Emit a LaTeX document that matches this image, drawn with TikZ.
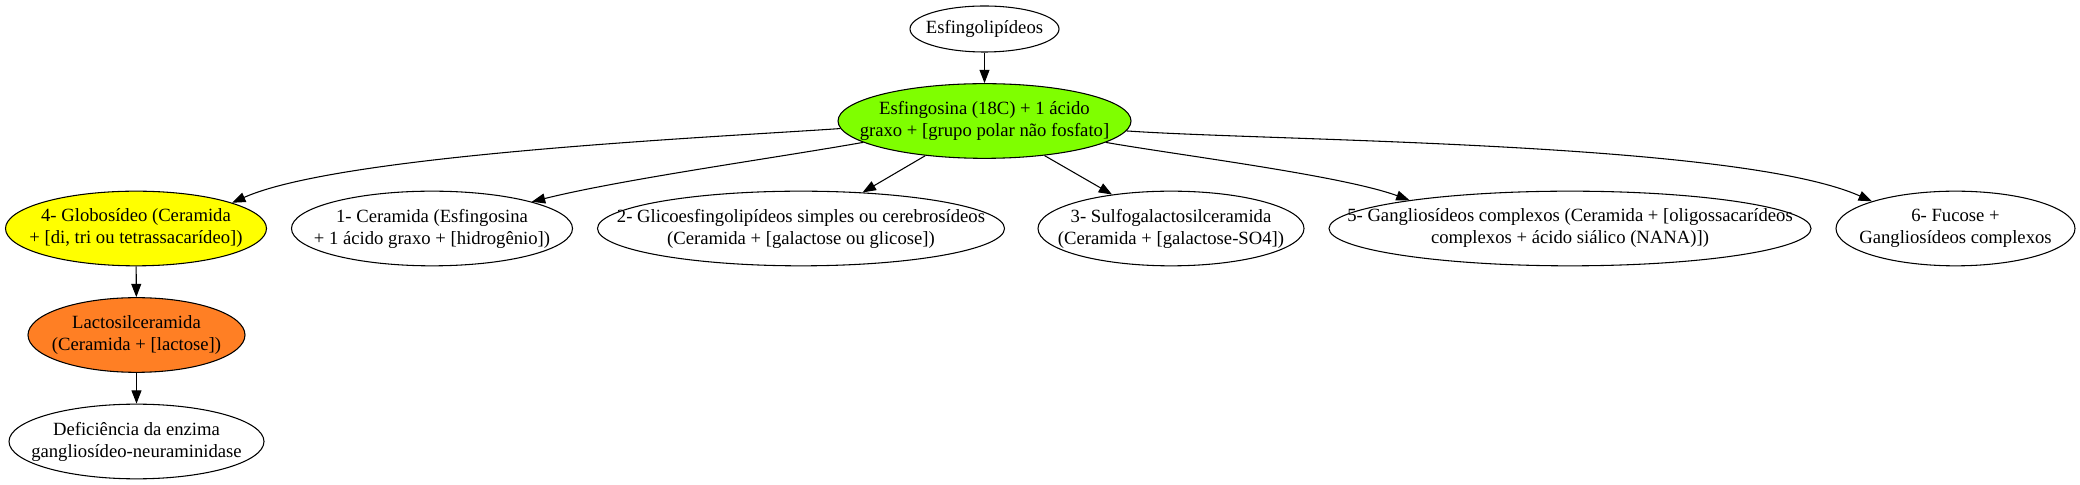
\documentclass[tikz,border=0pt]{standalone}
\usepackage{fontspec}
\setmainfont{Liberation Serif}
\usetikzlibrary{shapes.geometric}
\usetikzlibrary{arrows.meta}

\definecolor{verde}{RGB}{127,255,0}
\definecolor{amarelo}{RGB}{255,255,0}
\definecolor{laranja}{RGB}{255,127,36}

\begin{document}
\begin{tikzpicture} [x=0.75pt, y=0.75pt, font=\fontsize{14}{16.5}\selectfont,
        lipid/.style={draw, ellipse, line width=0.8pt, minimum height=56pt},
        every label/.style={align=center},
        link/.style={-{Triangle[length=10pt,width=7.5pt]}, line width=0.8pt}]
            \useasboundingbox (0,0) rectangle (2080,485);

            \node[lipid, minimum width=111.75pt, minimum height=34.5pt, label=center:Esfingolipídeos] (lip) at (984.5,456) {};
            \node[lipid, fill=verde, minimum width=219.75pt, label={center:Esfingosina (18C) + 1 ácido\\graxo + [grupo polar não fosfato]}] (esf) at (984.5,364) {};

            \node[lipid, fill=amarelo, minimum width=195.75pt, label={center:4- Globosídeo (Ceramida\\+ [di, tri ou tetrassacarídeo])}] (glob) at (136,256.5) {};
            \node[lipid, minimum width=210.75pt, label={center:1- Ceramida (Esfingosina\\+ 1 ácido graxo + [hidrogênio])}] (cer) at (432,256.5) {};
            \node[lipid, minimum width=305.25pt, label={center:2- Glicoesfingolipídeos simples ou cerebrosídeos\\(Ceramida + [galactose ou glicose])}] (gli) at (801,256.5) {};
            \node[lipid, minimum width=199.5pt, label={center:3- Sulfogalactosilceramida\\(Ceramida + [galactose-SO4])}] (sul) at (1171,256.5) {};
            \node[lipid, minimum width=361.5pt, label={center:5- Gangliosídeos complexos (Ceramida + [oligossacarídeos\\complexos + ácido siálico (NANA)])}] (gan) at (1570,256.5) {};
            \node[lipid, minimum width=179.25pt, label={center:6- Fucose +\\Gangliosídeos complexos}] (fuc) at (1955.5,256.5) {};

            \node[lipid, fill=laranja, minimum width=162.75pt, label={center:Lactosilceramida\\(Ceramida + [lactose])}] (lac) at (136.5,150) {};
            \node[lipid, minimum width=191.25pt, label={center:Deficiência da enzima\\gangliosídeo-neuraminidase}] (def) at (136.5,43.5) {};

            \draw[link] (lip) -- (esf);
            \draw[link] (esf.183) to[out=184, in=24, looseness=0.5] (glob.15);
            \draw[link] (esf.190) to[out=190, in=14, looseness=0.7] (cer.15);
            \draw[link] (esf) -- (gli);
            \draw[link] (esf) -- (sul);
            \draw[link] (esf.350) to[out=350, in=160, looseness=0.6] (gan.170);
            \draw[link] (esf.356) to[out=356, in=156, looseness=0.5] (fuc.162);
            \draw[link] (glob) -- (lac);
            \draw[link] (lac) -- (def);
        \end{tikzpicture}
\end{document}
